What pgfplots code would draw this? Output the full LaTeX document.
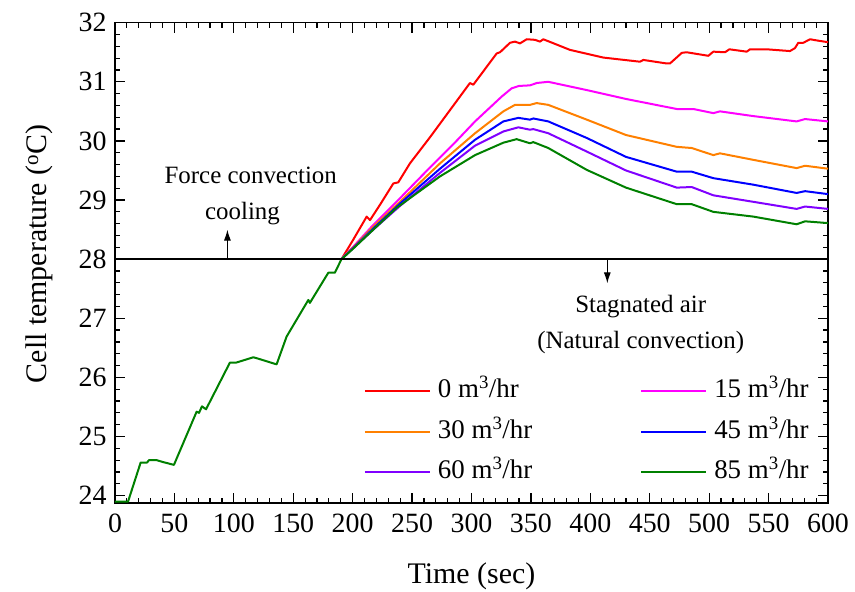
\documentclass[border=0pt]{standalone}
\usepackage{fontspec}
\setmainfont{Liberation Serif}
\usepackage{pgfplots}
\pgfplotsset{compat=1.18}
\usetikzlibrary{arrows.meta}

\definecolor{cRed}{RGB}{255,0,0}
\definecolor{cMag}{RGB}{255,0,255}
\definecolor{cOra}{RGB}{255,128,0}
\definecolor{cBlu}{RGB}{0,0,255}
\definecolor{cPur}{RGB}{128,0,255}
\definecolor{cGre}{RGB}{0,128,0}

\newcommand{\lbl}{\fontsize{25}{30}\selectfont}

\begin{document}
\begin{tikzpicture}
\path[use as bounding box] (-115bp,-89.3bp) rectangle (740bp,502.7bp);
\begin{axis}[
  at={(0,0)}, anchor=south west,
  scale only axis, width=713bp, height=480bp,
  xmin=0, xmax=600, ymin=23.88, ymax=32,
  xtick={0,50,...,600}, ytick={24,25,...,32},
  minor x tick num=4, minor y tick num=4,
  tick align=inside,
  major tick length=10bp, minor tick length=5bp,
  every tick/.style={black, line width=1.2bp},
  axis line style={line width=1.6bp},
  tick label style={font=\fontsize{28}{32}\selectfont},
  xticklabel style={yshift=-8bp},
  yticklabel style={xshift=-5bp},
  /pgf/number format/assume math mode=true,
  /pgf/number format/1000 sep={},
  xlabel={Time (sec)},
  ylabel={Cell temperature (\textsuperscript{o}C)},
  label style={font=\fontsize{30}{36}\selectfont},
  xlabel style={at={(axis description cs:0.5,0)}, anchor=base, yshift=-81bp},
  ylabel style={at={(axis description cs:0,0.518)}, anchor=base, yshift=68bp},
  every axis plot/.append style={line width=2bp, line join=round},
  legend columns=2,
  legend cell align=left,
  legend image code/.code={\draw[#1] (0bp,0bp) -- (65bp,0bp);},
  legend style={draw=none, fill=none, inner sep=0pt, outer sep=0pt,
    at={(axis cs:209.5,25.78)}, anchor=north west, yshift=11.5bp,
    nodes={inner sep=0pt, text height=19bp, text depth=6bp,
      font=\fontsize{27}{31}\selectfont},
    row sep=15.5bp,
    /tikz/every odd column/.append style={column sep=7bp},
    /tikz/every even column/.append style={column sep=108bp}},
]

% heating phase after the flow starts (t > 190 s)
\addplot[cRed] coordinates {
(190.6,28.00) (200.5,28.33) (211.8,28.72) (214.6,28.66) (223,28.92)
(234.2,29.28) (238.4,29.30) (248.2,29.62) (265,30.06) (298.7,30.98)
(301.5,30.95) (321.2,31.48) (324,31.50) (332.4,31.66) (336.6,31.68)
(340.8,31.65) (346.5,31.72) (353.4,31.71) (357.7,31.68) (360.4,31.72)
(382.9,31.54) (410.9,31.41) (441.8,31.34) (444.6,31.37) (464.3,31.31)
(467,31.31) (477,31.49) (481,31.50) (499.3,31.44) (503.5,31.51)
(513.3,31.50) (517,31.55) (531.6,31.51) (534.4,31.55) (548.4,31.55)
(568,31.52) (572.2,31.57) (575,31.66) (579.2,31.66) (584.9,31.72)
(590.5,31.70) (600,31.67)};
\addlegendentry{0 m\textsuperscript{3}/hr}

\addplot[cMag] coordinates {
(190.6,28.00) (200,28.20) (217.4,28.58) (239.8,29.03) (265,29.55)
(285,29.95) (303,30.33) (325.4,30.75) (333.8,30.89) (340,30.93)
(349.2,30.94) (355,30.98) (364.6,31.00) (397,30.86) (430,30.71)
(472.7,30.54) (486.7,30.54) (503.5,30.47) (509.1,30.50) (537.1,30.42)
(573.6,30.33) (580.7,30.37) (600,30.33)};
\addlegendentry{15 m\textsuperscript{3}/hr}

\addplot[cOra] coordinates {
(190.6,28.00) (200,28.19) (217.4,28.55) (239.8,28.97) (273.5,29.62)
(303,30.13) (326.8,30.50) (336.6,30.61) (349.2,30.61) (354.8,30.64)
(364.6,30.61) (397,30.36) (430,30.10) (472.7,29.90) (485.3,29.88)
(503.5,29.76) (509.1,29.79) (537.1,29.68) (573.6,29.54) (580.7,29.58)
(600,29.53)};
\addlegendentry{30 m\textsuperscript{3}/hr}

\addplot[cBlu] coordinates {
(190.6,28.00) (200,28.18) (217.4,28.52) (239.8,28.94) (273.5,29.53)
(303,30.02) (326.8,30.33) (339.4,30.39) (349.2,30.36) (352,30.38)
(364.6,30.33) (397,30.05) (430,29.73) (472.7,29.48) (485.3,29.48)
(503.5,29.37) (537.1,29.26) (573.6,29.12) (580.7,29.15) (600,29.10)};
\addlegendentry{45 m\textsuperscript{3}/hr}

\addplot[cPur] coordinates {
(190.6,28.00) (200,28.18) (217.4,28.50) (239.8,28.90) (273.5,29.46)
(303,29.92) (326.8,30.16) (339.4,30.23) (349.2,30.19) (352,30.20)
(364.6,30.13) (397,29.82) (430,29.50) (472.7,29.21) (485.3,29.22)
(503.5,29.08) (537.1,28.97) (573.6,28.85) (580.7,28.89) (600,28.85)};
\addlegendentry{60 m\textsuperscript{3}/hr}

\addplot[cGre] coordinates {
(190.6,28.00) (200,28.17) (217.4,28.50) (237.1,28.87) (273.5,29.40)
(303,29.76) (326.8,29.97) (338,30.03) (349.2,29.96) (352,29.98)
(364.6,29.88) (397,29.51) (430,29.21) (472.7,28.93) (485.3,28.93)
(503.5,28.80) (537.1,28.72) (573.6,28.59) (580.7,28.64) (600,28.61)};
\addlegendentry{85 m\textsuperscript{3}/hr}

% identical start-up phase shared by all flow rates (t <= 190 s)
\addplot[cGre, forget plot] coordinates {
(0,23.90) (11,23.90) (21.6,24.56) (27,24.56) (28.6,24.60) (35,24.60)
(40,24.57) (49.6,24.52) (68.7,25.42) (70.7,25.40) (73.2,25.51)
(76.6,25.46) (96.7,26.25) (102,26.25) (116.4,26.34) (120,26.32)
(136,26.22) (144.4,26.69) (162.7,27.31) (164,27.26) (179.5,27.77)
(185,27.77) (190.6,28.00)};

% 28 C threshold line
\addplot[black, line width=1.8bp, forget plot] coordinates {(0,28) (600,28)};

\draw[-{Latex[length=11bp,width=7bp]}, line width=1.1bp] (axis cs:94.6,28) -- (axis cs:94.6,28.5);
\draw[-{Latex[length=11bp,width=7bp]}, line width=1.1bp] (axis cs:414.3,28) -- (axis cs:414.3,27.59);

\node[font=\lbl, anchor=base] at (axis cs:114.2,29.285) {Force convection};
\node[font=\lbl, anchor=base] at (axis cs:107.3,28.676) {cooling};
\node[font=\lbl, anchor=base] at (axis cs:442.4,27.097) {Stagnated air};
\node[font=\lbl, anchor=base] at (axis cs:442.4,26.495) {(Natural convection)};
\end{axis}
\end{tikzpicture}
\end{document}
